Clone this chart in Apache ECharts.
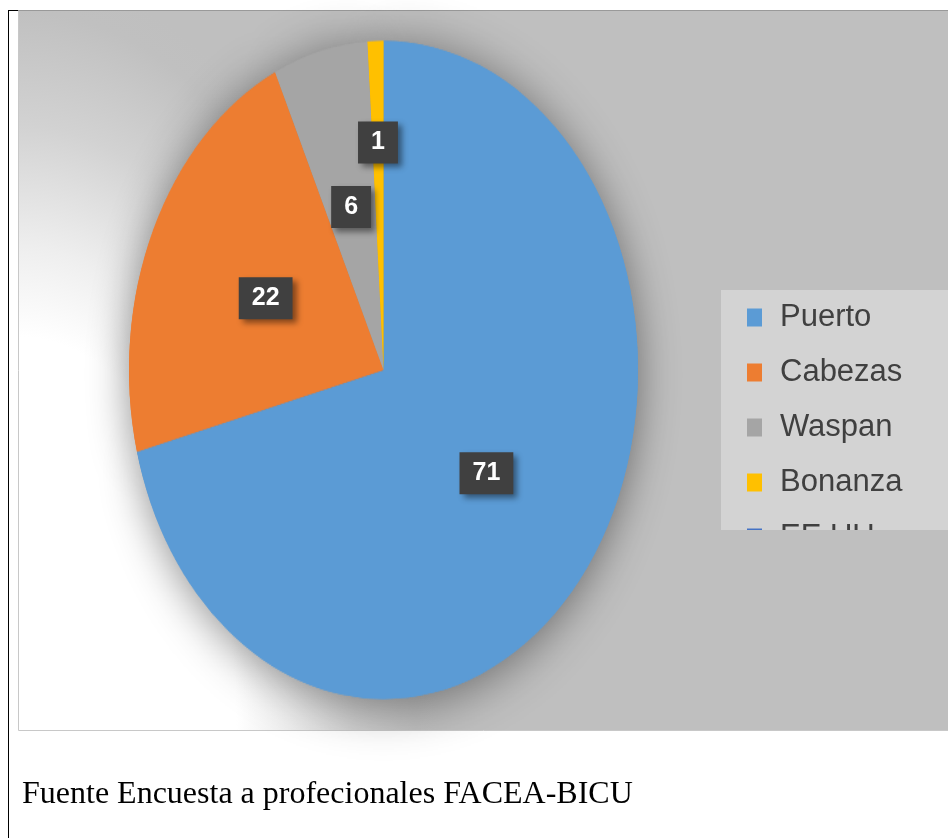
<!DOCTYPE html>
<html>
<head>
<meta charset="utf-8">
<script src="https://cdn.jsdelivr.net/npm/echarts@6/dist/echarts.min.js"></script>
<style>
html,body{margin:0;padding:0;background:#fff;overflow:hidden;width:948px;height:838px;}
.layer{position:absolute;left:0;top:0;width:948px;height:838px;}
#pieLayer{transform-origin:0 370px;transform:scaleY(1.293);}
</style>
</head>
<body>
<div id="bgLayer" class="layer"></div>
<div id="pieLayer" class="layer"></div>
<div id="topLayer" class="layer"></div>
<script>
// ---- data ----
const categories = ['Puerto', 'Cabezas', 'Waspan', 'Bonanza', 'EE.UU'];
const values = [71, 22, 6, 1, 0];
const caption = 'Fuente Encuesta a profecionales FACEA-BICU';

// ---- styling / layout ----
const palette = ['#5B9BD5', '#ED7D31', '#A5A5A5', '#FFC000', '#4472C4'];
const CX = 383.5, CY = 370, R = 254.5, K = 1.293;

function pieData(itemStyleFn, labelFn) {
  return categories.map((name, i) => {
    const d = { name: name, value: values[i] };
    if (itemStyleFn) d.itemStyle = itemStyleFn(i);
    if (labelFn) d.label = labelFn(i);
    return d;
  });
}

// background layer
const bgChart = echarts.init(document.getElementById('bgLayer'), null, { renderer: 'canvas' });
bgChart.setOption({
  animation: false,
  graphic: { elements: [
    { type: 'rect', x: 18, y: 730, scaleY: 1.8, shape: { x: 0, y: -400, width: 940, height: 400 }, silent: true,
      style: { fill: { type: 'radial', x: 0, y: 0, r: 420, global: true, colorStops: [
        { offset: 0, color: '#ffffff' }, { offset: 0.52, color: '#ffffff' }, { offset: 0.64, color: '#eeeeee' },
        { offset: 0.8, color: '#d2d2d2' }, { offset: 0.95, color: '#c0c0c0' }, { offset: 1, color: '#bfbfbf' } ] } } },
    { type: 'rect', shape: { x: 18.5, y: 10.5, width: 940, height: 720 }, silent: true, style: { fill: 'none', stroke: '#c8c8c8', lineWidth: 1 } },
    { type: 'line', shape: { x1: 18, y1: 10.5, x2: 948, y2: 10.5 }, silent: true, style: { stroke: '#999999', lineWidth: 1 } },
    { type: 'line', shape: { x1: 8, y1: 10.5, x2: 18, y2: 10.5 }, silent: true, style: { stroke: '#000000', lineWidth: 1 } },
    { type: 'line', shape: { x1: 8.5, y1: 10, x2: 8.5, y2: 838 }, silent: true, style: { stroke: '#000000', lineWidth: 1 } },
    { type: 'text', x: 22, y: 795, silent: true,
      style: { text: caption, fill: '#000000', font: '32px "Liberation Serif", "Times New Roman", serif', align: 'left', verticalAlign: 'middle' } }
  ] }
});

// stretched pie layer
const pieChart = echarts.init(document.getElementById('pieLayer'), null, { renderer: 'canvas' });
const pieBase = { type: 'pie', center: [CX, CY], radius: R, startAngle: 90, clockwise: true, silent: true,
  avoidLabelOverlap: false, label: { show: false }, labelLine: { show: false } };
pieChart.setOption({
  animation: false,
  color: palette,
  series: [
    Object.assign({}, pieBase, { z: 1, data: pieData(),
      itemStyle: { shadowBlur: 40, shadowColor: 'rgba(0,0,0,0.45)', shadowOffsetY: 4 } }),
    Object.assign({}, pieBase, { z: 2, data: pieData() })
  ]
});

// labels + legend layer
const placed = [];
function overlap(a, b) {
  return a.x < b.x + b.w && b.x < a.x + a.w && a.y < b.y + b.h && b.y < a.y + a.h;
}
function layoutLabel(p) {
  if (p.dataIndex === 0) placed.length = 0;
  const r = p.labelRect;
  const lx = r.x + r.width / 2, ly = r.y + r.height / 2;
  const dx = lx - CX, dy = ly - CY;
  const d = Math.hypot(dx, dy) || 1;
  const ux = dx / d, uy = dy / d;
  let f = d / R, x = lx, y = ly;
  for (let i = 0; i < 40; i++) {
    x = CX + ux * f * R; y = CY + uy * f * R * K;
    const m = 22;
    const box = { x: x - r.width / 2 - m, y: y - r.height / 2 - m, w: r.width + 2 * m, h: r.height + 2 * m };
    if (!placed.some(b => overlap(box, b))) break;
    f += 0.02;
  }
  placed.push({ x: x - r.width / 2, y: y - r.height / 2, w: r.width, h: r.height });
  return { x: x, y: y, align: 'center', verticalAlign: 'middle' };
}

const topChart = echarts.init(document.getElementById('topLayer'), null, { renderer: 'canvas' });
topChart.setOption({
  animation: false,
  color: palette,
  legend: {
    orient: 'vertical', left: 747, top: 302, padding: 0, icon: 'rect', itemWidth: 15, itemHeight: 18, itemGap: 24,
    height: 400, selectedMode: false,
    textStyle: { fontSize: 31, lineHeight: 31, color: '#404040', fontFamily: '"Liberation Sans", Arial, sans-serif', padding: [0, 0, 0, 13] },
    data: categories.map((n, i) => ({ name: n, itemStyle: { color: palette[i], opacity: 1 } }))
  },
  graphic: { elements: [
    { type: 'rect', z: 1, silent: true, shape: { x: 721, y: 290, width: 240, height: 250 }, style: { fill: '#d3d3d3' } },
    { type: 'rect', z: 100, silent: true, shape: { x: 721, y: 530, width: 240, height: 60 }, style: { fill: '#bfbfbf' } }
  ] },
  series: [{
    type: 'pie', center: [CX, CY], radius: R, startAngle: 90, clockwise: true, silent: true,
    avoidLabelOverlap: false,
    itemStyle: { color: 'rgba(0,0,0,0)', borderWidth: 0 },
    label: {
      show: true, position: 'inside', formatter: '{c}', color: '#ffffff', fontSize: 25, fontWeight: 'bold',
      fontFamily: '"Liberation Sans", Arial, sans-serif', lineHeight: 26,
      backgroundColor: '#404040', padding: [8, 13, 8, 13],
      shadowColor: 'rgba(0,0,0,0.45)', shadowBlur: 6, shadowOffsetX: 4, shadowOffsetY: 4
    },
    labelLine: { show: false },
    labelLayout: layoutLabel,
    data: pieData(i => ({ color: 'rgba(0,0,0,0)' }), i => ({ show: values[i] > 0 }))
  }]
});
</script>
</body>
</html>
